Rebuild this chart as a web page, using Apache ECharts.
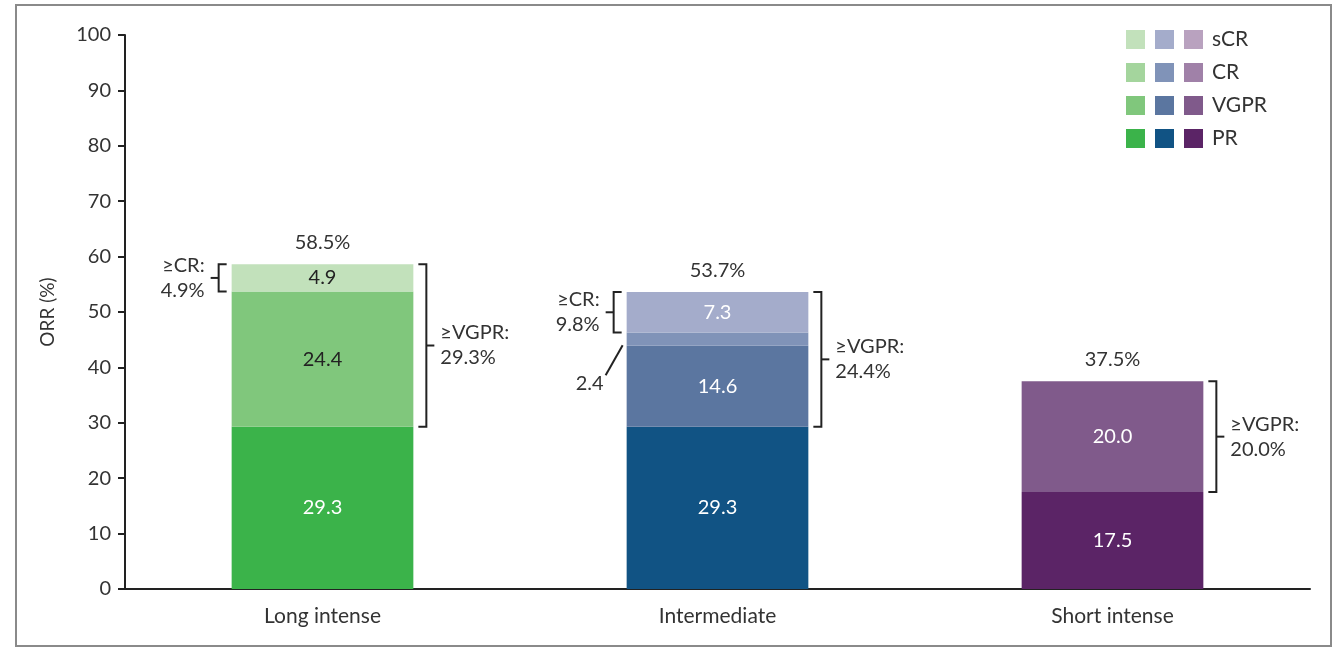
<!DOCTYPE html>
<html>
<head>
    <meta charset="utf-8">
    <title>ORR by schedule</title>
    <script src="https://cdn.jsdelivr.net/npm/echarts@6/dist/echarts.min.js"></script>
    <style>
        html, body { margin: 0; padding: 0; background: #fff; }
    </style>
</head>
<body>
    <div id="main" style="width: 1340px;height:648px;"></div>
    <script type="text/javascript">
        // categories and stacked response values (%)
        var categories = ['Long intense', 'Intermediate', 'Short intense'];
        var prValues   = [29.3, 29.3, 17.5];
        var vgprValues = [24.4, 14.6, 20.0];
        var crValues   = [0, 2.4, 0];
        var scrValues  = [4.9, 7.3, 0];
        var totalLabels = ['58.5%', '53.7%', '37.5%'];
        var yTicks = [0, 100, 10]; // min, max, step

        // brackets: category, from, to, side, text
        var brackets = [
            [0, 53.7, 58.6, 'left', '\u2265CR:\n4.9%'],
            [0, 29.3, 58.6, 'right', '\u2265VGPR:\n29.3%'],
            [1, 46.3, 53.6, 'left', '\u2265CR:\n9.8%'],
            [1, 29.3, 53.6, 'right', '\u2265VGPR:\n24.4%'],
            [2, 17.5, 37.5, 'right', '\u2265VGPR:\n20.0%']
        ];
        // small segment labelled outside with a leader line
        var leaderLabels = [[1, 45.1, '2.4']];

        var families = ['Long', 'Inter', 'Short'];
        var levels = ['sCR', 'CR', 'VGPR', 'PR'];
        var palette = {
            Long:  { PR: '#3bb34a', VGPR: '#80c77c', CR: '#a4d59d', sCR: '#c2e1bb' },
            Inter: { PR: '#115384', VGPR: '#5b76a0', CR: '#8093b8', sCR: '#a4accb' },
            Short: { PR: '#5b2466', VGPR: '#805a8b', CR: '#a081a8', sCR: '#b9a2bf' }
        };
        var levelValues = { PR: prValues, VGPR: vgprValues, CR: crValues, sCR: scrValues };
        // label colour per category/level
        var darkText = { 'Long-VGPR': true, 'Long-sCR': true };

        var FONT = 'Lato, "Noto Sans", sans-serif';
        var FS = 20;
        var BAR_FRAC = 0.46;

        var myChart = echarts.init(document.getElementById('main'));

        var series = [];
        ['PR', 'VGPR', 'CR', 'sCR'].forEach(function (lv) {
            families.forEach(function (fam, ci) {
                var data = categories.map(function (c, i) {
                    return i === ci ? levelValues[lv][i] : '-';
                });
                var showLabel = levelValues[lv][ci] >= 4;
                series.push({
                    name: fam + ' ' + lv,
                    type: 'bar',
                    stack: 'orr',
                    barWidth: (BAR_FRAC * 100) + '%',
                    data: data,
                    itemStyle: { color: palette[fam][lv] },
                    label: {
                        show: showLabel,
                        position: 'inside',
                        formatter: function (p) { return p.value.toFixed(1); },
                        color: darkText[fam + '-' + lv] ? '#222' : '#fff',
                        fontSize: FS,
                        fontFamily: FONT
                    },
                    emphasis: { disabled: true }
                });
            });
        });

        function bracketItem(params, api) {
            var b = brackets[params.dataIndex];
            var top = api.coord([b[0], b[2]]);
            var bot = api.coord([b[0], b[1]]);
            var half = api.size([1, 0])[0] * BAR_FRAC / 2;
            var s = b[3] === 'left' ? -1 : 1;
            var edge = top[0] + s * half;
            var vx = edge + s * 13;
            var tip = edge + s * 5;
            var mid = (top[1] + bot[1]) / 2;
            return {
                type: 'group',
                children: [{
                    type: 'polyline',
                    shape: { points: [[tip, top[1]], [vx, top[1]], [vx, bot[1]], [tip, bot[1]]] },
                    style: { stroke: '#222', lineWidth: 2, fill: null }
                }, {
                    type: 'line',
                    shape: { x1: vx, y1: mid, x2: vx + s * 8, y2: mid },
                    style: { stroke: '#222', lineWidth: 2 }
                }, {
                    type: 'text',
                    style: {
                        text: b[4],
                        x: vx + s * 14,
                        y: mid,
                        align: s < 0 ? 'right' : 'left',
                        verticalAlign: 'middle',
                        font: FS + 'px ' + FONT,
                        lineHeight: 25,
                        fill: '#333'
                    }
                }]
            };
        }

        function leaderItem(params, api) {
            var l = leaderLabels[params.dataIndex];
            var p = api.coord([l[0], l[1]]);
            var half = api.size([1, 0])[0] * BAR_FRAC / 2;
            var x0 = p[0] - half - 4;
            var y0 = p[1] + 6;
            var x1 = x0 - 17, y1 = y0 + 30;
            return {
                type: 'group',
                children: [{
                    type: 'line',
                    shape: { x1: x0, y1: y0, x2: x1, y2: y1 },
                    style: { stroke: '#222', lineWidth: 2 }
                }, {
                    type: 'text',
                    style: {
                        text: l[2], x: x1 - 2, y: y1 + 8,
                        align: 'right', verticalAlign: 'middle',
                        font: FS + 'px ' + FONT, fill: '#333'
                    }
                }]
            };
        }

        function totalItem(params, api) {
            var i = params.dataIndex;
            var sum = prValues[i] + vgprValues[i] + crValues[i] + scrValues[i];
            var p = api.coord([i, sum]);
            return {
                type: 'text',
                style: {
                    text: totalLabels[i], x: p[0], y: p[1] - 22,
                    align: 'center', verticalAlign: 'middle',
                    font: FS + 'px ' + FONT, fill: '#333'
                }
            };
        }

        series.push({
            type: 'custom', name: 'brackets', silent: true,
            renderItem: bracketItem,
            data: brackets.map(function (b) { return [b[0], b[1], b[2]]; }),
            encode: { x: 0, y: [1, 2] }, z: 5
        });
        series.push({
            type: 'custom', name: 'leaders', silent: true,
            renderItem: leaderItem,
            data: leaderLabels.map(function (l) { return [l[0], l[1]]; }),
            encode: { x: 0, y: 1 }, z: 5
        });
        series.push({
            type: 'custom', name: 'totals', silent: true,
            renderItem: totalItem,
            data: categories.map(function (c, i) { return [i, 0]; }),
            encode: { x: 0, y: 1 }, z: 5
        });

        // three legend columns; only the last one shows its text,
        // the others keep the same (invisible) text so rows line up
        function legendFor(fam, left, withText) {
            return {
                orient: 'vertical',
                left: left,
                top: 29,
                itemWidth: 19,
                itemHeight: 19,
                itemGap: 12,
                icon: 'rect',
                selectedMode: false,
                z: withText ? 4 : 3,
                data: levels.map(function (lv) { return fam + ' ' + lv; }),
                formatter: function (name) { return name.split(' ')[1]; },
                textStyle: {
                    fontSize: 21, fontFamily: FONT,
                    color: withText ? '#333' : 'rgba(0,0,0,0)',
                    padding: [0, 0, 0, 4]
                },
                padding: 0
            };
        }

        var option = {
            animation: false,
            grid: { left: 125, right: 30, top: 35, bottom: 59 },
            legend: [
                legendFor('Long', 1126, false),
                legendFor('Inter', 1155, false),
                legendFor('Short', 1184, true)
            ],
            xAxis: {
                type: 'category',
                data: categories,
                axisLine: { lineStyle: { color: '#222', width: 2 } },
                axisTick: { length: 7, lineStyle: { color: '#222', width: 2 } },
                axisLabel: { fontSize: 21, fontFamily: FONT, color: '#333', margin: 17 }
            },
            yAxis: {
                type: 'value',
                min: yTicks[0],
                max: yTicks[1],
                interval: yTicks[2],
                name: 'ORR (%)',
                nameLocation: 'middle',
                nameRotate: 90,
                nameGap: 68,
                nameTextStyle: { fontSize: 19, fontFamily: FONT, color: '#333' },
                splitLine: { show: false },
                axisLine: { show: true, lineStyle: { color: '#222', width: 2 } },
                axisTick: { show: true, length: 7, lineStyle: { color: '#222', width: 2 } },
                axisLabel: { fontSize: FS, fontFamily: FONT, color: '#333', margin: 14 }
            },
            graphic: [{
                type: 'rect',
                shape: { x: 16, y: 5, width: 1315, height: 641 },
                style: { fill: null, stroke: '#8a8a8a', lineWidth: 2 },
                silent: true
            }],
            series: series
        };

        myChart.setOption(option);
    </script>
</body>
</html>
